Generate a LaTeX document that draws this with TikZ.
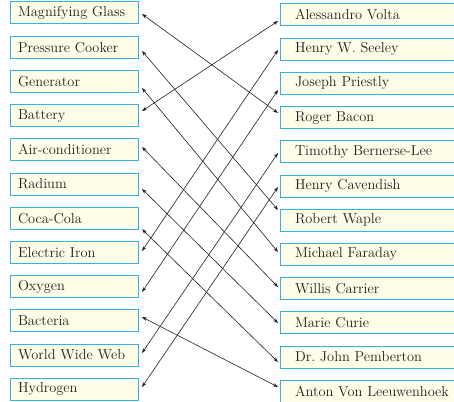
\documentclass[tikz,border=0pt]{standalone}
\usepackage{xcolor}
\usepackage{tikz}
\usetikzlibrary{arrows.meta,positioning}

\definecolor{boxline}{RGB}{52,178,230}
\definecolor{boxfill}{RGB}{255,253,232}
\definecolor{inkgray}{RGB}{35,31,32}
\frenchspacing

\begin{document}
\begin{tikzpicture}[node distance=12.2pt, outer sep=0pt,
    item/.style={draw=boxline,line width=1pt,fill=boxfill,minimum height=22pt,
      inner xsep=8pt,inner ysep=2pt,text width=112pt,align=left,text=inkgray,
      font=\fontsize{14.4}{15}\selectfont},
    person/.style={item,inner xsep=15pt,text width=170pt},
    link/.style={{Stealth[length=5pt,width=3.6pt]}-{Stealth[length=5pt,width=3.6pt]},line width=0.6pt,inkgray}]
  \useasboundingbox (0,0) rectangle (454pt,-401pt);
  % things on the left
  \node[item,anchor=west] (mag) at (10pt,-13pt) {Magnifying Glass};
  \node[item,below=of mag] (cooker) {Pressure Cooker};
  \node[item,below=of cooker] (gen) {Generator};
  \node[item,below=of gen] (battery) {Battery};
  \node[item,below=of battery] (ac) {Air-conditioner};
  \node[item,below=of ac] (radium) {Radium};
  \node[item,below=of radium] (coke) {Coca-Cola};
  \node[item,below=of coke] (iron) {Electric Iron};
  \node[item,below=of iron] (oxygen) {Oxygen};
  \node[item,below=of oxygen] (bacteria) {Bacteria};
  \node[item,below=of bacteria] (www) {World Wide Web};
  \node[item,below=of www] (hydrogen) {Hydrogen};
  % people on the right
  \node[person,right=142pt of mag,yshift=-2pt] (volta) {Alessandro Volta};
  \node[person,below=of volta] (seeley) {Henry W. Seeley};
  \node[person,below=of seeley] (priestly) {Joseph Priestly};
  \node[person,below=of priestly] (bacon) {Roger Bacon};
  \node[person,below=of bacon] (berners) {Timothy Bernerse-Lee};
  \node[person,below=of berners] (cavendish) {Henry Cavendish};
  \node[person,below=of cavendish] (waple) {Robert Waple};
  \node[person,below=of waple] (faraday) {Michael Faraday};
  \node[person,below=of faraday] (carrier) {Willis Carrier};
  \node[person,below=of carrier] (curie) {Marie Curie};
  \node[person,below=of curie] (pemberton) {Dr. John Pemberton};
  \node[person,below=of pemberton] (leeuwen) {Anton Von Leeuwenhoek};
  % matching lines
  \foreach \a/\da/\b/\db in {mag/-1/bacon/4.6, cooker/-3.8/waple/10.2,
      gen/-6.6/faraday/2.4, battery/4.6/volta/-6, ac/2.8/carrier/1.6,
      radium/-5/curie/-0.2, coke/-11/pemberton/-5, iron/1.4/seeley/-0.8,
      oxygen/-5.4/priestly/-6.6, bacteria/3.8/leeuwen/4.2,
      www/2/berners/-1.2, hydrogen/2.2/cavendish/-1}
    \draw[link] ([xshift=4pt,yshift=\da pt]\a.east) -- ([xshift=-2pt,yshift=\db pt]\b.west);
\end{tikzpicture}
\end{document}
